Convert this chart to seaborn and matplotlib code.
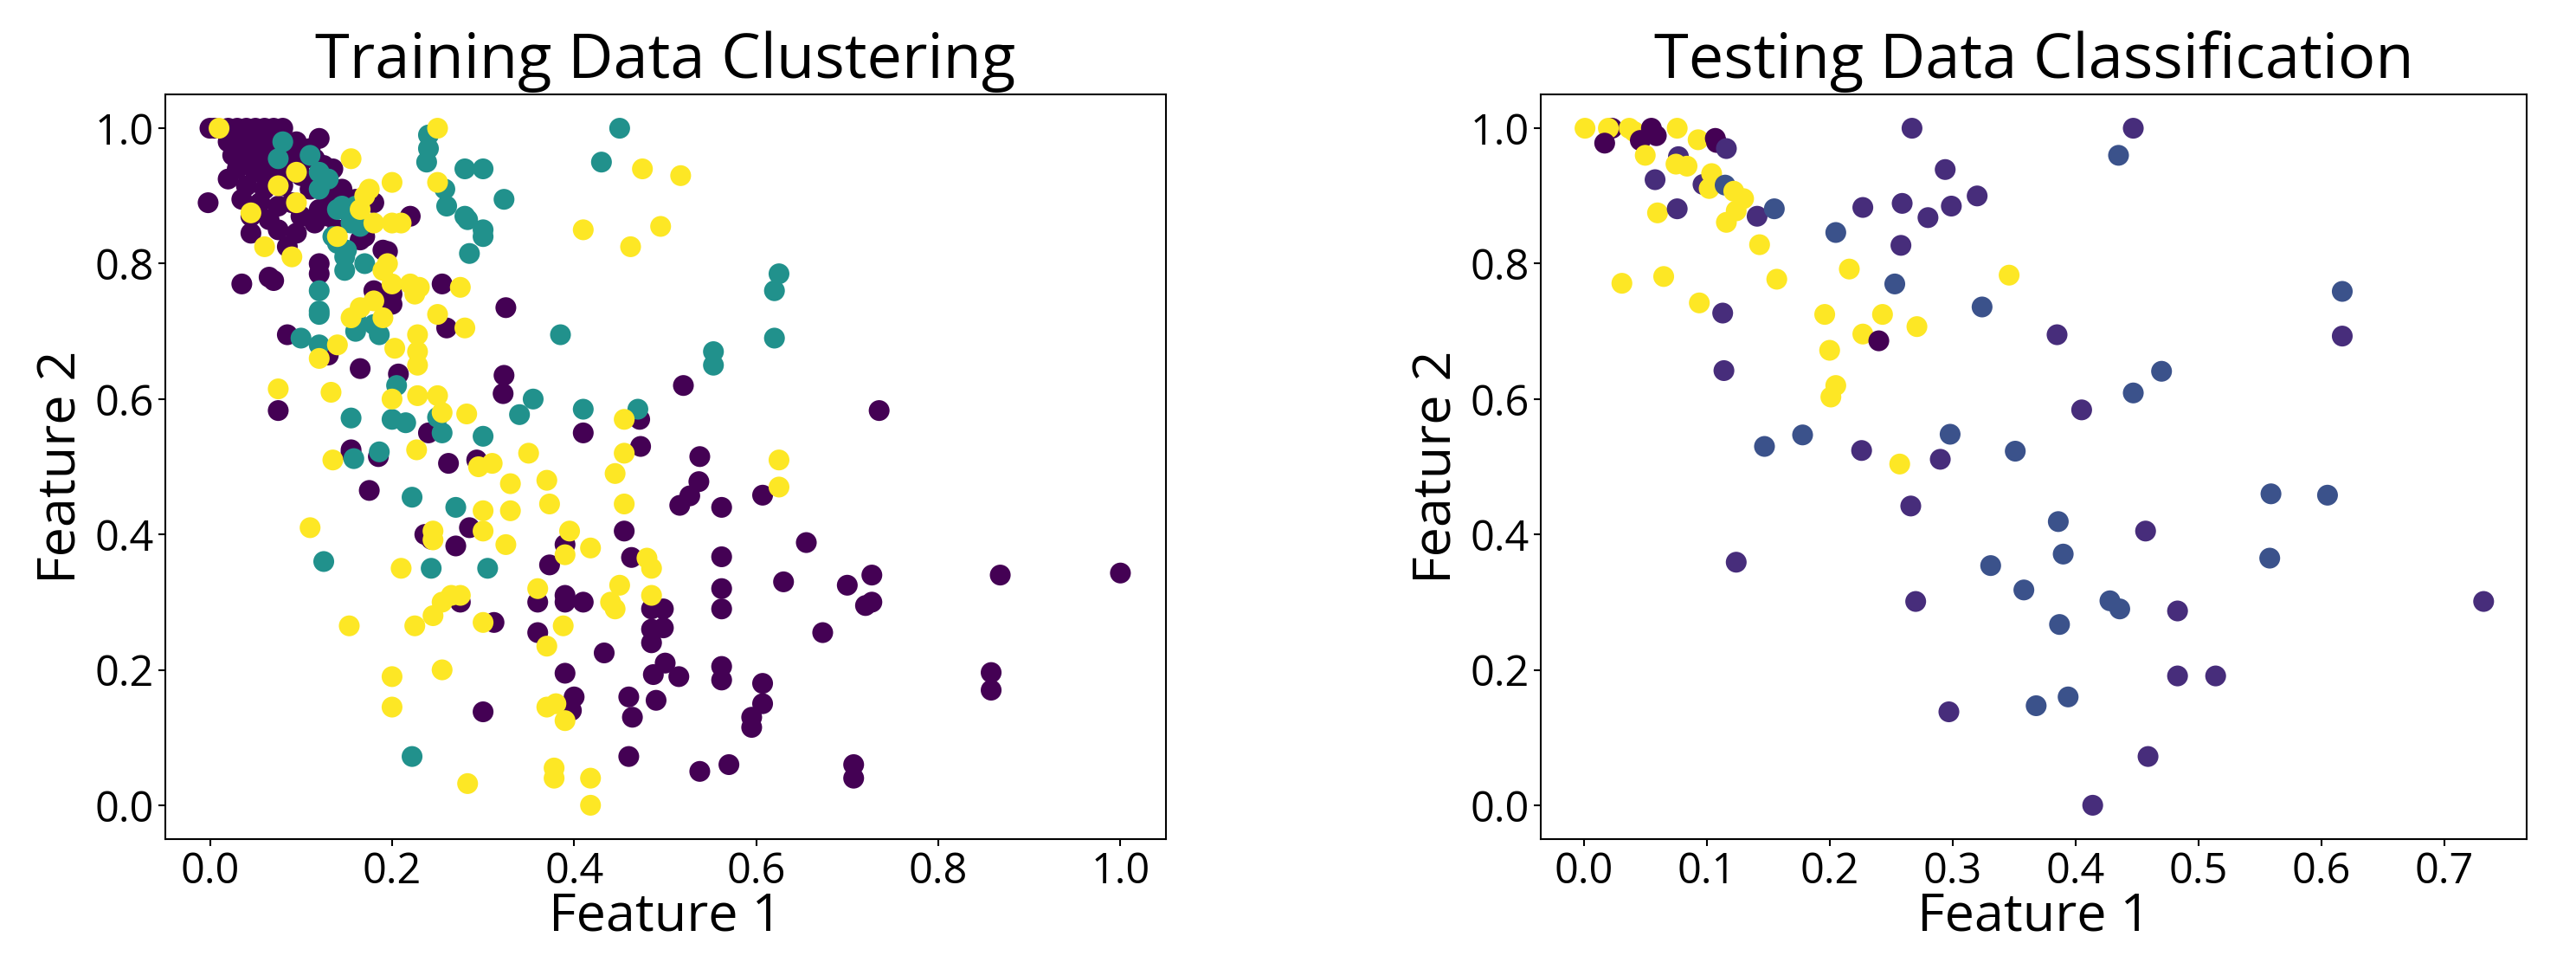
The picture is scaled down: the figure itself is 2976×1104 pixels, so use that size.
import matplotlib
matplotlib.use("Agg")
import matplotlib.pyplot as plt
import seaborn as sns
import pandas as pd

train_purple = [(0.0,1.0),(0.005,1.0),(0.02,1.0),(0.03,1.0),(0.04,1.0),(0.05,1.0),(0.06,1.0),(0.07,1.0),(0.08,1.0),(0.03,0.99),(0.045,0.99),(0.06,0.985),(0.075,0.99),(0.02,0.98),(0.035,0.975),(0.05,0.97),(0.065,0.97),(0.08,0.975),(0.095,0.98),(0.11,0.97),(0.12,0.985),(0.025,0.96),(0.04,0.955),(0.055,0.95),(0.07,0.96),(0.09,0.96),(0.1,0.95),(0.115,0.955),(0.125,0.945),(0.03,0.94),(0.05,0.935),(0.065,0.93),(0.08,0.94),(0.1,0.93),(0.12,0.93),(0.135,0.94),(0.02,0.925),(0.04,0.915),(0.06,0.91),(0.08,0.915),(0.11,0.91),(0.13,0.9),(0.145,0.91),(-0.002,0.89),(0.035,0.895),(0.055,0.89),(0.075,0.885),(0.09,0.89),(0.12,0.88),(0.14,0.885),(0.16,0.895),(0.045,0.87),(0.065,0.865),(0.1,0.87),(0.115,0.86),(0.13,0.87),(0.155,0.87),(0.18,0.89),(0.075,0.85),(0.095,0.845),(0.14,0.85),(0.165,0.835),(0.17,0.84),(0.045,0.845),(0.19,0.82),(0.195,0.818),(0.22,0.87),(0.085,0.825),(0.12,0.8),(0.12,0.785),(0.065,0.78),(0.07,0.775),(0.035,0.77),(0.18,0.76),(0.2,0.755),(0.2,0.74),(0.255,0.77),(0.26,0.705),(0.325,0.735),(0.085,0.695),(0.13,0.665),(0.165,0.645),(0.207,0.637),(0.323,0.635),(0.322,0.608),(0.52,0.62),(0.075,0.583),(0.155,0.525),(0.155,0.52),(0.24,0.55),(0.185,0.515),(0.175,0.465),(0.262,0.505),(0.293,0.51),(0.41,0.55),(0.472,0.57),(0.473,0.53),(0.538,0.515),(0.537,0.478),(0.527,0.457),(0.516,0.443),(0.562,0.44),(0.607,0.458),(0.735,0.583),(0.236,0.4),(0.243,0.393),(0.27,0.383),(0.285,0.41),(0.455,0.405),(0.463,0.366),(0.562,0.367),(0.655,0.388),(0.373,0.355),(0.36,0.3),(0.39,0.31),(0.39,0.3),(0.41,0.3),(0.39,0.385),(0.275,0.3),(0.312,0.27),(0.36,0.255),(0.485,0.29),(0.498,0.29),(0.485,0.26),(0.498,0.262),(0.485,0.24),(0.562,0.32),(0.562,0.29),(0.63,0.33),(0.7,0.325),(0.727,0.34),(0.727,0.3),(0.72,0.295),(0.868,0.34),(1.0,0.343),(0.673,0.255),(0.433,0.225),(0.39,0.195),(0.487,0.193),(0.5,0.21),(0.515,0.19),(0.562,0.205),(0.562,0.185),(0.607,0.18),(0.607,0.15),(0.595,0.13),(0.595,0.115),(0.858,0.196),(0.858,0.17),(0.46,0.16),(0.464,0.13),(0.4,0.16),(0.397,0.14),(0.49,0.155),(0.3,0.138),(0.46,0.072),(0.538,0.05),(0.57,0.06),(0.707,0.06),(0.707,0.04)]

train_teal = [(0.08,0.98),(0.075,0.955),(0.11,0.96),(0.12,0.935),(0.13,0.925),(0.12,0.91),(0.14,0.88),(0.145,0.885),(0.16,0.885),(0.155,0.86),(0.165,0.855),(0.135,0.84),(0.14,0.83),(0.15,0.82),(0.148,0.81),(0.17,0.8),(0.148,0.79),(0.12,0.76),(0.12,0.73),(0.12,0.725),(0.12,0.68),(0.1,0.69),(0.16,0.72),(0.16,0.7),(0.18,0.71),(0.186,0.695),(0.24,0.99),(0.24,0.97),(0.238,0.95),(0.258,0.91),(0.26,0.885),(0.28,0.87),(0.28,0.94),(0.3,0.94),(0.283,0.865),(0.3,0.85),(0.3,0.84),(0.285,0.815),(0.323,0.895),(0.45,1.0),(0.43,0.95),(0.385,0.695),(0.625,0.785),(0.62,0.76),(0.62,0.69),(0.553,0.67),(0.553,0.65),(0.355,0.6),(0.34,0.577),(0.41,0.585),(0.47,0.585),(0.205,0.62),(0.2,0.57),(0.215,0.565),(0.255,0.55),(0.25,0.573),(0.3,0.545),(0.155,0.572),(0.158,0.512),(0.186,0.522),(0.222,0.455),(0.27,0.44),(0.125,0.36),(0.243,0.35),(0.305,0.35),(0.222,0.072)]

train_yellow = [(0.01,1.0),(0.25,1.0),(0.095,0.935),(0.075,0.915),(0.095,0.89),(0.045,0.875),(0.06,0.825),(0.09,0.81),(0.155,0.955),(0.17,0.9),(0.175,0.91),(0.2,0.92),(0.25,0.92),(0.165,0.88),(0.14,0.84),(0.2,0.86),(0.21,0.86),(0.18,0.86),(0.195,0.8),(0.19,0.79),(0.2,0.77),(0.22,0.77),(0.23,0.765),(0.225,0.755),(0.18,0.745),(0.165,0.735),(0.19,0.72),(0.155,0.72),(0.14,0.68),(0.12,0.66),(0.25,0.725),(0.28,0.705),(0.275,0.765),(0.203,0.675),(0.228,0.695),(0.228,0.67),(0.228,0.65),(0.075,0.615),(0.133,0.61),(0.2,0.6),(0.228,0.605),(0.25,0.605),(0.255,0.58),(0.282,0.578),(0.227,0.525),(0.135,0.51),(0.295,0.5),(0.31,0.505),(0.35,0.52),(0.33,0.475),(0.33,0.435),(0.3,0.435),(0.3,0.405),(0.37,0.48),(0.373,0.445),(0.245,0.405),(0.245,0.392),(0.11,0.41),(0.21,0.35),(0.325,0.385),(0.395,0.405),(0.39,0.37),(0.418,0.38),(0.445,0.49),(0.455,0.52),(0.455,0.57),(0.455,0.445),(0.625,0.51),(0.625,0.47),(0.48,0.365),(0.485,0.35),(0.485,0.31),(0.36,0.32),(0.45,0.325),(0.44,0.3),(0.445,0.29),(0.255,0.3),(0.265,0.31),(0.275,0.31),(0.245,0.28),(0.225,0.265),(0.153,0.265),(0.3,0.27),(0.388,0.265),(0.37,0.235),(0.2,0.19),(0.255,0.2),(0.2,0.145),(0.37,0.145),(0.38,0.15),(0.39,0.125),(0.378,0.055),(0.378,0.04),(0.418,0.04),(0.418,0.0),(0.283,0.032),(0.475,0.94),(0.517,0.93),(0.41,0.85),(0.495,0.855),(0.462,0.825)]

# test points: (x, y, class)  P=dark purple, I=indigo, B=blue, Y=yellow
test_points = [(0.001,1.0,'Y'),(0.023,1.0,'P'),(0.02,1.0,'Y'),(0.037,1.0,'Y'),(0.041,0.995,'Y'),(0.017,0.978,'P'),(0.055,1.0,'P'),(0.059,0.989,'P'),(0.046,0.982,'P'),(0.076,1.0,'Y'),(0.093,0.983,'Y'),(0.107,0.985,'P'),(0.108,0.979,'P'),(0.116,0.97,'I'),(0.05,0.96,'Y'),(0.077,0.958,'I'),(0.075,0.947,'Y'),(0.084,0.944,'Y'),(0.058,0.924,'I'),(0.097,0.917,'I'),(0.104,0.933,'Y'),(0.102,0.911,'Y'),(0.115,0.916,'B'),(0.122,0.907,'Y'),(0.13,0.896,'Y'),(0.124,0.878,'Y'),(0.116,0.861,'Y'),(0.06,0.875,'Y'),(0.076,0.881,'I'),(0.141,0.87,'I'),(0.155,0.881,'B'),(0.143,0.828,'Y'),(0.031,0.771,'Y'),(0.065,0.781,'Y'),(0.157,0.777,'Y'),(0.094,0.742,'Y'),(0.113,0.727,'I'),(0.114,0.642,'I'),(0.124,0.359,'I'),(0.147,0.53,'B'),(0.178,0.547,'B'),(0.205,0.846,'B'),(0.196,0.725,'Y'),(0.2,0.672,'Y'),(0.205,0.62,'Y'),(0.201,0.603,'Y'),(0.216,0.792,'Y'),(0.227,0.696,'Y'),(0.226,0.524,'I'),(0.227,0.883,'I'),(0.24,0.686,'P'),(0.243,0.725,'Y'),(0.253,0.77,'B'),(0.258,0.827,'I'),(0.259,0.889,'I'),(0.267,1.0,'I'),(0.271,0.707,'Y'),(0.257,0.504,'Y'),(0.266,0.442,'I'),(0.27,0.301,'I'),(0.28,0.868,'I'),(0.294,0.939,'I'),(0.299,0.885,'I'),(0.29,0.511,'I'),(0.298,0.548,'B'),(0.297,0.138,'I'),(0.32,0.9,'I'),(0.324,0.736,'B'),(0.346,0.783,'Y'),(0.351,0.523,'B'),(0.331,0.354,'B'),(0.358,0.318,'B'),(0.368,0.147,'B'),(0.385,0.695,'I'),(0.386,0.419,'B'),(0.39,0.371,'B'),(0.387,0.267,'B'),(0.394,0.16,'B'),(0.405,0.584,'I'),(0.414,0.0,'I'),(0.428,0.302,'B'),(0.436,0.29,'B'),(0.435,0.96,'B'),(0.447,1.0,'I'),(0.447,0.609,'B'),(0.457,0.405,'I'),(0.47,0.641,'B'),(0.459,0.072,'I'),(0.483,0.287,'I'),(0.483,0.191,'I'),(0.514,0.191,'I'),(0.559,0.46,'B'),(0.558,0.365,'B'),(0.605,0.458,'B'),(0.617,0.759,'B'),(0.617,0.693,'I'),(0.732,0.301,'I')]

rows = [(x, y, 'P') for x, y in train_purple] + [(x, y, 'T') for x, y in train_teal] + [(x, y, 'Y') for x, y in train_yellow]
train = pd.DataFrame(rows, columns=['x', 'y', 'c'])
test = pd.DataFrame(test_points, columns=['x', 'y', 'c'])

pal = {'P': '#440154', 'T': '#21918c', 'Y': '#fde725', 'I': '#472d7b', 'B': '#3b528b'}
plt.rcParams['font.family'] = 'Open Sans'

fig = plt.figure(figsize=(29.76, 11.04), dpi=100)
ax1 = fig.add_axes([191/2976, 1 - 969/1104, (1347-191)/2976, (969-109)/1104])
ax2 = fig.add_axes([1780/2976, 1 - 969/1104, (2919-1780)/2976, (969-109)/1104])

sns.scatterplot(data=train, x='x', y='y', hue='c', palette=pal, s=300, linewidth=0, legend=False, ax=ax1)
sns.scatterplot(data=test, x='x', y='y', hue='c', palette=pal, s=300, linewidth=0, legend=False, ax=ax2)

for ax, title, xt in [(ax1, 'Training Data Clustering', [0, .2, .4, .6, .8, 1.0]),
                      (ax2, 'Testing Data Classification', [0, .1, .2, .3, .4, .5, .6, .7])]:
    ax.set_title(title, fontsize=52, pad=14)
    ax.set_xlabel('Feature 1', fontsize=44, labelpad=-2)
    ax.set_ylabel('Feature 2', fontsize=44, labelpad=6)
    ax.set_xticks(xt)
    ax.set_xticklabels([f'{v:.1f}' for v in xt])
    ax.set_yticks([0, .2, .4, .6, .8, 1.0])
    ax.set_yticklabels([f'{v:.1f}' for v in [0, .2, .4, .6, .8, 1.0]])
    ax.tick_params(labelsize=35, length=6, width=1.5)
    for s in ax.spines.values():
        s.set_linewidth(1.5)

ax1.set_xlim(-0.049, 1.05)
ax2.set_xlim(-0.035, 0.767)
ax1.set_ylim(-0.05, 1.05)
ax2.set_ylim(-0.05, 1.05)

fig.savefig('out.png', dpi=100)
